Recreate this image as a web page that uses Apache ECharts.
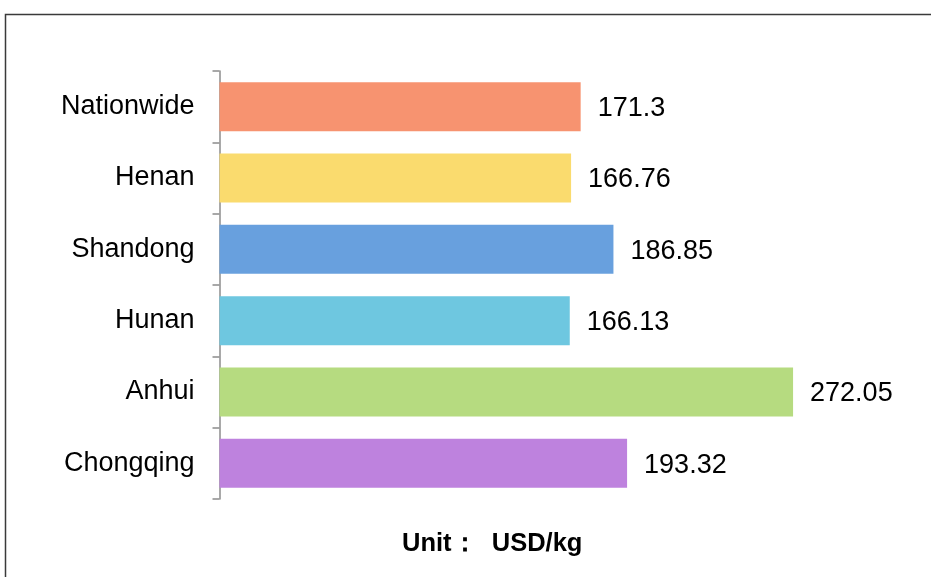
<!DOCTYPE html>
<html>
<head>
<meta charset="utf-8">
<script src="https://cdn.jsdelivr.net/npm/echarts@6/dist/echarts.min.js"></script>
<style>
  html, body { margin: 0; padding: 0; background: #fff; }
  #chart { width: 931px; height: 577px; }
</style>
</head>
<body>
<div id="chart"></div>
<script>
  var regions = ['Nationwide', 'Henan', 'Shandong', 'Hunan', 'Anhui', 'Chongqing'];
  var prices = [171.3, 166.76, 186.85, 166.13, 272.05, 193.32];
  var barColors = ['#F79370', '#FADB6E', '#68A0DE', '#6EC7E0', '#B6DB80', '#BE82DE'];

  var chart = echarts.init(document.getElementById('chart'));

  var option = {
    backgroundColor: '#fff',
    animation: false,
    textStyle: { fontFamily: 'Liberation Sans, Arial, sans-serif' },
    graphic: [
      {
        type: 'rect',
        shape: { x: 5.5, y: 14.5, width: 940, height: 600 },
        style: { fill: 'none', stroke: '#3a3a3a', lineWidth: 1.5 },
        silent: true
      },
      {
        type: 'text',
        left: 402,
        top: 531,
        style: {
          text: 'Unit：  USD/kg',
          font: 'bold 25.5px "Liberation Sans", Arial, sans-serif',
          fill: '#000'
        }
      }
    ],
    grid: { left: 219.5, right: 79, top: 71, bottom: 78 },
    xAxis: {
      type: 'value',
      min: 0,
      max: 300,
      show: false
    },
    yAxis: {
      type: 'category',
      data: regions,
      inverse: true,
      axisLine: { lineStyle: { color: '#8c8c8c', width: 1.5 } },
      axisTick: { show: true, length: 7, lineStyle: { color: '#8c8c8c', width: 1.5 } },
      axisLabel: { color: '#000', fontSize: 27, margin: 25, padding: [4, 0, 0, 0] }
    },
    series: [
      {
        type: 'bar',
        barWidth: 49,
        data: prices.map(function (v, i) {
          return { value: v, itemStyle: { color: barColors[i] } };
        }),
        label: {
          show: true,
          position: 'right',
          distance: 17,
          offset: [0, 2],
          color: '#000',
          fontSize: 27
        }
      }
    ]
  };

  chart.setOption(option);
</script>
</body>
</html>
